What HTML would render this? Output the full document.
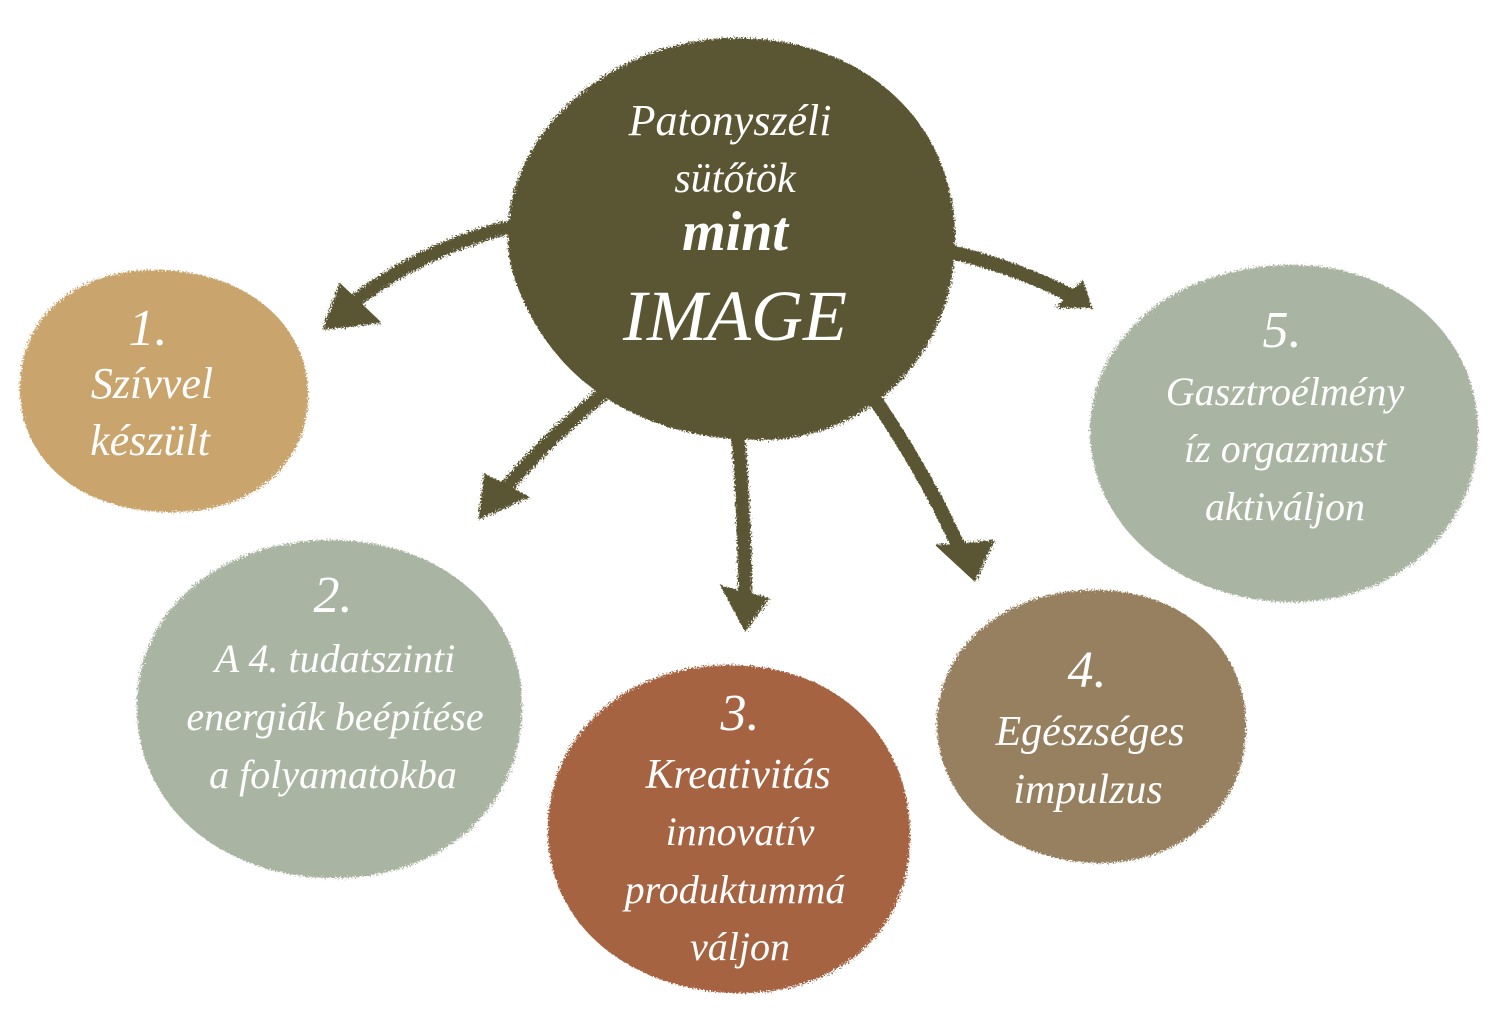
<!DOCTYPE html>
<html><head><meta charset="utf-8"><style>
html,body{margin:0;padding:0;background:#fff;}
svg{display:block;}
text{font-family:"Liberation Serif",serif;font-style:italic;fill:#fff;text-anchor:middle;}
</style></head><body>
<svg width="1500" height="1026" viewBox="0 0 1500 1026" xmlns="http://www.w3.org/2000/svg">
<defs>
<filter id="rough" x="-10%" y="-10%" width="120%" height="120%">
<feTurbulence type="fractalNoise" baseFrequency="0.6" numOctaves="2" result="n"/>
<feDisplacementMap in="SourceGraphic" in2="n" scale="8"/>
</filter>
</defs>
<g filter="url(#rough)">
<!-- arrows -->
<g stroke="#5a5530" stroke-width="14" fill="none" stroke-linecap="round">
<path d="M505,228 Q420,250 350,305"/>
<path d="M610,388 Q545,440 500,495"/>
<path d="M738,435 Q745,520 745,600"/>
<path d="M872,395 Q930,480 962,555"/>
<path d="M950,252 Q1010,265 1070,295"/>
</g>
<g fill="#5a5530">
<polygon points="322,330 340,283 382,323"/>
<polygon points="478,520 484,473 530,497"/>
<polygon points="745,632 720,585 770,598"/>
<polygon points="975,582 935,545 995,540"/>
<polygon points="1092,308 1055,308 1083,280"/>
</g>
<!-- blobs -->
<path fill="#5a5530" d="M730,38 C850,35 950,110 955,230 C960,340 880,440 760,440 C640,440 545,380 512,270 C485,160 590,42 730,38 Z"/>
<path fill="#c9a46c" d="M150,270 C240,268 308,320 308,395 C308,470 245,515 165,512 C80,510 18,460 20,385 C22,315 75,272 150,270 Z"/>
<path fill="#a9b5a2" d="M330,540 C440,540 525,610 522,710 C520,810 440,880 330,878 C215,876 133,800 137,700 C140,610 220,540 330,540 Z"/>
<path fill="#a66442" d="M730,665 C840,665 912,740 910,840 C908,935 835,995 735,993 C630,990 545,925 548,825 C550,735 625,665 730,665 Z"/>
<path fill="#97805f" d="M1095,590 C1185,590 1248,650 1246,730 C1244,810 1180,865 1095,863 C1005,860 935,800 937,720 C940,645 1005,590 1095,590 Z"/>
<path fill="#a9b5a2" d="M1285,265 C1395,262 1480,335 1478,435 C1476,530 1395,605 1285,602 C1175,598 1090,525 1090,430 C1092,335 1175,268 1285,265 Z"/>
</g>
<text x="730" y="135" font-size="44">Patonyszéli</text>
<text x="735" y="192" font-size="42">sütőtök</text>
<text x="735" y="250" font-size="56" font-weight="bold">mint</text>
<text x="735" y="340" font-size="72">IMAGE</text>
<text x="148" y="345" font-size="52">1.</text>
<text x="152" y="398" font-size="44">Szívvel</text>
<text x="150" y="455" font-size="44">készült</text>
<text x="333" y="612" font-size="52">2.</text>
<text x="335" y="672" font-size="40">A 4. tudatszinti</text>
<text x="335" y="730" font-size="40">energiák beépítése</text>
<text x="333" y="788" font-size="40">a folyamatokba</text>
<text x="740" y="730" font-size="52">3.</text>
<text x="738" y="788" font-size="42">Kreativitás</text>
<text x="740" y="845" font-size="40">innovatív</text>
<text x="735" y="903" font-size="40">produktummá</text>
<text x="740" y="960" font-size="40">váljon</text>
<text x="1087" y="687" font-size="52">4.</text>
<text x="1090" y="745" font-size="42">Egészséges</text>
<text x="1088" y="803" font-size="42">impulzus</text>
<text x="1282" y="347" font-size="52">5.</text>
<text x="1285" y="405" font-size="40">Gasztroélmény</text>
<text x="1285" y="462" font-size="40">íz orgazmust</text>
<text x="1285" y="520" font-size="40">aktiváljon</text>
</svg>
</body></html>
